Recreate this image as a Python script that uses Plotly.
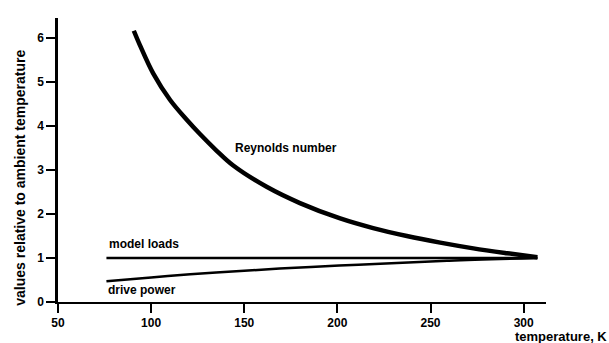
import plotly.graph_objects as go

# Data
re_T = [90.7, 93.9, 101.1, 110.1, 119.0, 126.2, 135.2, 143.9, 162.0, 179.9, 201.5, 219.2, 237.3, 255.2, 273.0, 291.1, 307.4]
re_val = [6.17, 5.85, 5.20, 4.60, 4.15, 3.82, 3.44, 3.11, 2.62, 2.25, 1.90, 1.68, 1.50, 1.35, 1.22, 1.11, 1.02]

loads_T = [76.0, 307.4]
loads_val = [1.0, 1.0]

power_T = [76.0, 100.0, 121.0, 150.0, 169.0, 201.0, 223.0, 260.0, 307.4]
power_val = [0.47, 0.56, 0.63, 0.71, 0.76, 0.83, 0.87, 0.94, 1.0]

x_ticks = [50, 100, 150, 200, 250, 300]
y_ticks = [0, 1, 2, 3, 4, 5, 6]

FONT = "Liberation Sans, Arial, Helvetica, sans-serif"

fig = go.Figure()
fig.add_trace(go.Scatter(x=re_T, y=re_val, mode="lines",
                         line=dict(color="black", width=4.5, shape="spline", smoothing=1.0),
                         showlegend=False, hoverinfo="skip"))
fig.add_trace(go.Scatter(x=loads_T, y=loads_val, mode="lines",
                         line=dict(color="black", width=2.5),
                         showlegend=False, hoverinfo="skip"))
fig.add_trace(go.Scatter(x=power_T, y=power_val, mode="lines",
                         line=dict(color="black", width=2.5, shape="spline"),
                         showlegend=False, hoverinfo="skip"))

lab_font = dict(family=FONT, size=12, color="black", weight="bold")
fig.add_annotation(x=172.4, y=3.5, text="Reynolds number", showarrow=False,
                   font=lab_font, xanchor="center", yanchor="middle")
fig.add_annotation(x=76.2, y=1.31, text="model loads", showarrow=False,
                   font=lab_font, xanchor="left", yanchor="middle")
fig.add_annotation(x=76.0, y=0.27, text="drive power", showarrow=False,
                   font=lab_font, xanchor="left", yanchor="middle")

# axis titles as annotations in paper positions
fig.add_annotation(xref="paper", yref="paper", x=(513 - 58.3) / (546 - 58.3),
                   y=-(336.5 - 301.7) / (301.7 - 18.3),
                   text="temperature, K", showarrow=False,
                   font=dict(family=FONT, size=13, color="black", weight="bold"),
                   xanchor="left", yanchor="middle")
fig.add_annotation(xref="paper", yref="paper", x=-(58.3 - 20) / (546 - 58.3),
                   y=(301.7 - 178) / (301.7 - 18.3),
                   text="values relative to ambient temperature", textangle=-90,
                   showarrow=False,
                   font=dict(family=FONT, size=14, color="black", weight="bold"),
                   xanchor="center", yanchor="middle")

fig.update_xaxes(range=[50, 312], tickvals=x_ticks, ticktext=[str(v) for v in x_ticks],
                 showgrid=False, zeroline=False, showline=True, linecolor="black",
                 linewidth=2, ticks="outside", ticklen=9, tickwidth=1.5, tickcolor="black",
                 tickfont=dict(family=FONT, size=12, color="black", weight="bold"))
fig.update_yaxes(range=[0, 6.46], tickvals=y_ticks, ticktext=[str(v) for v in y_ticks],
                 showgrid=False, zeroline=False, showline=True, linecolor="black",
                 linewidth=2.5, ticks="outside", ticklen=9, tickwidth=1.5, tickcolor="black",
                 tickfont=dict(family=FONT, size=12, color="black", weight="bold"))

fig.update_layout(width=609, height=343,
                  margin=dict(l=58, r=63, t=18, b=41),
                  plot_bgcolor="white", paper_bgcolor="white")

fig.write_html("out.html")
